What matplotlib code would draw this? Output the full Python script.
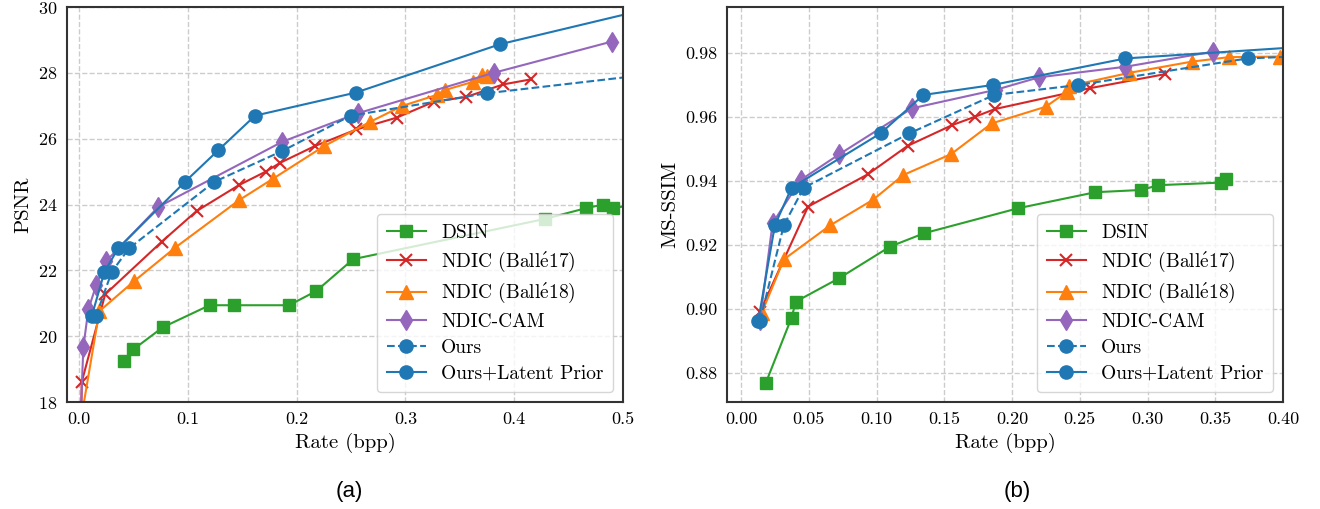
import matplotlib
matplotlib.use('Agg')
import matplotlib.pyplot as plt

# ---- PSNR (a) ----
dsin_psnr_x = [0.041, 0.050, 0.077, 0.120, 0.142, 0.193, 0.218, 0.252, 0.428, 0.466, 0.482, 0.491, 0.52]
dsin_psnr_y = [19.24, 19.60, 20.27, 20.94, 20.94, 20.94, 21.37, 22.34, 23.56, 23.89, 24.00, 23.89, 24.05]

b17_psnr_x = [0.002, 0.0025, 0.024, 0.076, 0.108, 0.147, 0.1716, 0.185, 0.217, 0.255, 0.292, 0.326, 0.356, 0.390, 0.415]
b17_psnr_y = [17.30, 18.61, 21.27, 22.87, 23.80, 24.59, 25.00, 25.27, 25.78, 26.28, 26.64, 27.12, 27.27, 27.65, 27.80]

b18_psnr_x = [0.002, 0.0187, 0.0506, 0.088, 0.147, 0.1786, 0.2255, 0.2675, 0.2966, 0.3288, 0.3364, 0.3624, 0.370, 0.3746]
b18_psnr_y = [17.50, 20.76, 21.67, 22.68, 24.13, 24.79, 25.78, 26.51, 26.99, 27.33, 27.48, 27.73, 27.93, 27.90]

cam_psnr_x = [0.0015, 0.004, 0.0086, 0.016, 0.025, 0.073, 0.187, 0.256, 0.381, 0.4896]
cam_psnr_y = [17.60, 19.67, 20.82, 21.57, 22.28, 23.93, 25.91, 26.77, 28.00, 28.95]

ours_psnr_x = [0.0156, 0.030, 0.046, 0.1244, 0.187, 0.2497, 0.3747, 0.60]
ours_psnr_y = [20.61, 21.95, 22.67, 24.69, 25.63, 26.70, 27.38, 28.24]

lp_psnr_x = [0.0117, 0.0233, 0.036, 0.0974, 0.128, 0.1618, 0.2543, 0.387, 0.60]
lp_psnr_y = [20.61, 21.95, 22.67, 24.69, 25.65, 26.70, 27.40, 28.87, 30.55]

# ---- MS-SSIM (b) ----
dsin_ssim_x = [0.0184, 0.0373, 0.0404, 0.0723, 0.110, 0.1353, 0.2046, 0.2615, 0.2954, 0.308, 0.354, 0.3576]
dsin_ssim_y = [0.8770, 0.8973, 0.9023, 0.9096, 0.9195, 0.9237, 0.9315, 0.9365, 0.9372, 0.9387, 0.9395, 0.9406]

b17_ssim_x = [0.014, 0.0495, 0.0936, 0.123, 0.156, 0.1728, 0.1875, 0.2574, 0.313]
b17_ssim_y = [0.8992, 0.9320, 0.9421, 0.9510, 0.9575, 0.9601, 0.9625, 0.9690, 0.9734]

b18_ssim_x = [0.0152, 0.0316, 0.066, 0.0973, 0.1199, 0.155, 0.185, 0.2248, 0.2407, 0.2424, 0.2865, 0.3326, 0.360, 0.398]
b18_ssim_y = [0.8987, 0.9155, 0.9262, 0.9341, 0.9419, 0.9484, 0.9580, 0.9632, 0.9679, 0.9697, 0.9738, 0.9773, 0.9787, 0.9789]

cam_ssim_x = [0.014, 0.0233, 0.0439, 0.0723, 0.126, 0.188, 0.2199, 0.2836, 0.348]
cam_ssim_y = [0.8965, 0.9268, 0.9403, 0.9483, 0.9627, 0.9685, 0.9724, 0.9757, 0.9804]

ours_ssim_x = [0.014, 0.0316, 0.0463, 0.1243, 0.1868, 0.2488, 0.3738, 0.50]
ours_ssim_y = [0.8963, 0.9262, 0.9379, 0.9549, 0.9669, 0.9700, 0.9783, 0.9805]

lp_ssim_x = [0.0127, 0.025, 0.0373, 0.103, 0.1346, 0.1856, 0.2836, 0.50]
lp_ssim_y = [0.8963, 0.9262, 0.9379, 0.9549, 0.9669, 0.9700, 0.9783, 0.9843]

# é drawn through mathtext so it stays in the Computer Modern look
labels = ['DSIN', r'NDIC (Ball$\acute{\mathrm{e}}$17)', r'NDIC (Ball$\acute{\mathrm{e}}$18)',
          'NDIC-CAM', 'Ours', 'Ours+Latent Prior']

plt.rcParams['font.family'] = ['cmr10', 'DejaVu Serif']
plt.rcParams['axes.formatter.use_mathtext'] = True
plt.rcParams['mathtext.fontset'] = 'cm'

fig = plt.figure(figsize=(13.2, 5.09), dpi=100)
ax1 = fig.add_axes([0.0508, 0.2102, 0.4212, 0.776])
ax2 = fig.add_axes([0.5508, 0.2102, 0.4212, 0.776])


def draw(ax, data):
    styles = [
        dict(color='#2ca02c', marker='s', ms=9, ls='-'),
        dict(color='#d62728', marker='x', ms=9, mew=1.5, ls='-'),
        dict(color='#ff7f0e', marker='^', ms=10, ls='-'),
        dict(color='#9467bd', marker='d', ms=10, ls='-'),
        dict(color='#1f77b4', marker='o', ms=9.5, ls='--'),
        dict(color='#1f77b4', marker='o', ms=9.5, ls='-'),
    ]
    for (x, y), st, lab in zip(data, styles, labels):
        ax.plot(x, y, lw=1.5, label=lab, **st)
    ax.grid(True, ls='--', color='#cccccc', lw=1)
    ax.set_axisbelow(True)
    ax.tick_params(length=0, labelsize=13, pad=7)
    for s in ax.spines.values():
        s.set_color('#333333')
        s.set_linewidth(1.5)
    ax.set_xlabel('Rate (bpp)', fontsize=15)
    ax.legend(loc='lower right', fontsize=14, framealpha=0.8, edgecolor='#cccccc',
              borderpad=0.5, labelspacing=0.4, handletextpad=0.8)


draw(ax1, [(dsin_psnr_x, dsin_psnr_y), (b17_psnr_x, b17_psnr_y), (b18_psnr_x, b18_psnr_y),
           (cam_psnr_x, cam_psnr_y), (ours_psnr_x, ours_psnr_y), (lp_psnr_x, lp_psnr_y)])
ax1.set_xlim(-0.011, 0.5)
ax1.set_ylim(18, 30)
ax1.set_xticks([0.0, 0.1, 0.2, 0.3, 0.4, 0.5])
ax1.set_xticklabels(['0.0', '0.1', '0.2', '0.3', '0.4', '0.5'])
ax1.set_yticks([18, 20, 22, 24, 26, 28, 30])
ax1.set_ylabel('PSNR', fontsize=15)

draw(ax2, [(dsin_ssim_x, dsin_ssim_y), (b17_ssim_x, b17_ssim_y), (b18_ssim_x, b18_ssim_y),
           (cam_ssim_x, cam_ssim_y), (ours_ssim_x, ours_ssim_y), (lp_ssim_x, lp_ssim_y)])
ax2.set_xlim(-0.0103, 0.40)
ax2.set_ylim(0.87094, 0.99437)
xt = [0.0, 0.05, 0.10, 0.15, 0.20, 0.25, 0.30, 0.35, 0.40]
ax2.set_xticks(xt)
ax2.set_xticklabels(['%.2f' % v for v in xt])
yt = [0.88, 0.90, 0.92, 0.94, 0.96, 0.98]
ax2.set_yticks(yt)
ax2.set_yticklabels(['%.2f' % v for v in yt])
ax2.set_ylabel('MS-SSIM', fontsize=15)

fig.text(0.265, 0.035, '(a)', fontsize=16, family='Liberation Sans', ha='center', va='center')
fig.text(0.771, 0.035, '(b)', fontsize=16, family='Liberation Sans', ha='center', va='center')

fig.savefig('out.png', dpi=100)
